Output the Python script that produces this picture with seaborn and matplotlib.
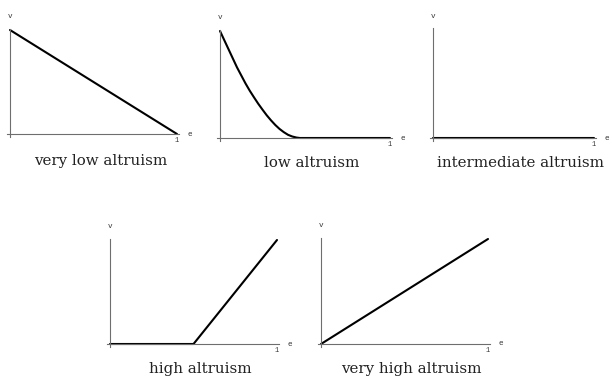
import matplotlib
matplotlib.use("Agg")
import matplotlib.pyplot as plt
import seaborn as sns

# effort e -> value v for each altruism level
titles = ["very low altruism", "low altruism", "intermediate altruism",
          "high altruism", "very high altruism"]
e_vlow = [0.0, 1.0]
v_vlow = [1.0, 0.0]
e_low = [0.0, 0.025, 0.05, 0.075, 0.10, 0.125, 0.15, 0.175, 0.20, 0.225, 0.25,
         0.275, 0.30, 0.325, 0.35, 0.375, 0.40, 0.425, 0.45, 0.47, 1.0]
v_low = [1.0, 0.915, 0.83, 0.745, 0.66, 0.585, 0.51, 0.442, 0.38, 0.32, 0.265,
         0.212, 0.165, 0.122, 0.085, 0.055, 0.03, 0.014, 0.004, 0.0, 0.0]
e_mid = [0.0, 1.0]
v_mid = [0.0, 0.0]
e_high = [0.0, 0.5, 1.0]
v_high = [0.0, 0.0, 1.0]
e_vhigh = [0.0, 1.0]
v_vhigh = [0.0, 1.0]

series = [(e_vlow, v_vlow), (e_low, v_low), (e_mid, v_mid),
          (e_high, v_high), (e_vhigh, v_vhigh)]

# pixel layout: origin x, x at e=1, baseline y, y at v=1, title y
layout = [(10, 177, 134, 30, 161),
          (220, 390, 138, 31, 163),
          (433, 594, 138, 29, 163),
          (110, 277, 344, 240, 369),
          (321, 488, 344, 239, 369)]

sns.set_style("white")
W, H = 612, 387
fig = plt.figure(figsize=(W / 100, H / 100), dpi=100)

XL = (-0.02, 1.012)
YL = (-0.03, 1.01)
mono = "Liberation Mono"

for (e, v), title, (x0, x1, yb, yt, ty) in zip(series, titles, layout):
    sx = x1 - x0
    sy = yb - yt
    left = x0 + XL[0] * sx
    width = (XL[1] - XL[0]) * sx
    top_px = yb - YL[1] * sy
    bot_px = yb - YL[0] * sy
    ax = fig.add_axes([left / W, 1 - bot_px / H, width / W, (bot_px - top_px) / H])
    ax.set_xlim(*XL)
    ax.set_ylim(*YL)
    for s in ["top", "right"]:
        ax.spines[s].set_visible(False)
    for s in ["left", "bottom"]:
        ax.spines[s].set_position(("data", 0))
        ax.spines[s].set_color("#6e6e6e")
        ax.spines[s].set_linewidth(0.8)
    ax.set_xticks([1])
    ax.set_xticklabels([])
    ax.set_yticks([])
    ax.tick_params(axis="x", direction="inout", length=3, width=0.6, color="#6e6e6e")
    ax.patch.set_alpha(0)

    sns.lineplot(x=e, y=v, ax=ax, color="black", linewidth=1.5,
                 sort=False, estimator=None, clip_on=False)
    ax.set_xlabel("")
    ax.set_ylabel("")

    ax.text(1.0, -0.03, "1", transform=ax.transData, fontsize=5, family=mono,
            ha="center", va="top", color="#333333")
    ax.text(1.0 + 13 / sx, 0.0, "e", transform=ax.transData, fontsize=5.5,
            family=mono, ha="center", va="center", color="#333333")
    ax.text(0.0, 1.0 + 13 / sy, "v", transform=ax.transData, fontsize=5.5,
            family=mono, ha="center", va="center", color="#333333")

    fig.text((x0 + x1) / 2 / W + 7 / W, 1 - ty / H, title, fontsize=10.8,
             family="DejaVu Serif", ha="center", va="center", color="#222222")

fig.savefig("out.png", dpi=100)
